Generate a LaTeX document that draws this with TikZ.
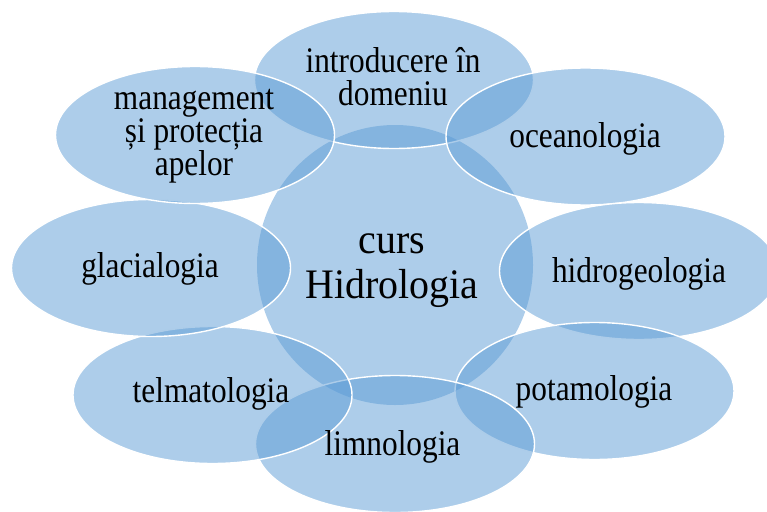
\documentclass[tikz,border=0pt]{standalone}
\usepackage{fontspec}
\setmainfont{Liberation Serif}
\usetikzlibrary{shapes.geometric}
\definecolor{bub}{RGB}{91,155,213}
\begin{document}
\begin{tikzpicture}[x=1pt,y=-1pt,
  bubble/.style={ellipse, fill=bub, fill opacity=0.5, draw=white, line width=1.4pt,
    minimum width=279pt, minimum height=137pt, inner sep=0pt},
  hub/.style={ellipse, fill=bub, fill opacity=0.5, draw=none,
    minimum width=276pt, minimum height=280pt, inner sep=0pt},
  lbl/.style={font=\fontsize{36}{33}\selectfont, xscale=0.87, align=center, inner sep=0pt, text=black},
  hubl/.style={font=\fontsize{42}{45}\selectfont, xscale=0.95, align=center, inner sep=0pt, text=black}]
\useasboundingbox (0,0) rectangle (767,511);
\clip (0,0) rectangle (767,511);
\node[hub] (c) at (395,265) {};
\node[bubble] (e1) at (394,80) {};
\node[bubble] (e2) at (585.5,136.5) {};
\node[bubble] (e3) at (639,271) {};
\node[bubble] (e4) at (594.5,391) {};
\node[bubble] (e5) at (395,444) {};
\node[bubble] (e6) at (212.5,395) {};
\node[bubble] (e7) at (151,268) {};
\node[bubble] (e8) at (195,135) {};
\node[hubl] (tc) at (392,270.4) {curs\\Hidrologia};
\node[lbl] (t1) at (393,76.2) {introducere în\\domeniu};
\node[lbl, anchor=base] (t2) at (585,147) {oceanologia};
\node[lbl, anchor=base] (t3) at (639,282) {hidrogeologia};
\node[lbl, anchor=base] (t4) at (594,400) {potamologia};
\node[lbl, anchor=base] (t5) at (392.5,455) {limnologia};
\node[lbl, anchor=base] (t6) at (211,402) {telmatologia};
\node[lbl, anchor=base] (t7) at (150,277) {glacialogia};
\node[lbl] (t8) at (194,136) {management\\și protecția\\apelor};
\end{tikzpicture}
\end{document}
